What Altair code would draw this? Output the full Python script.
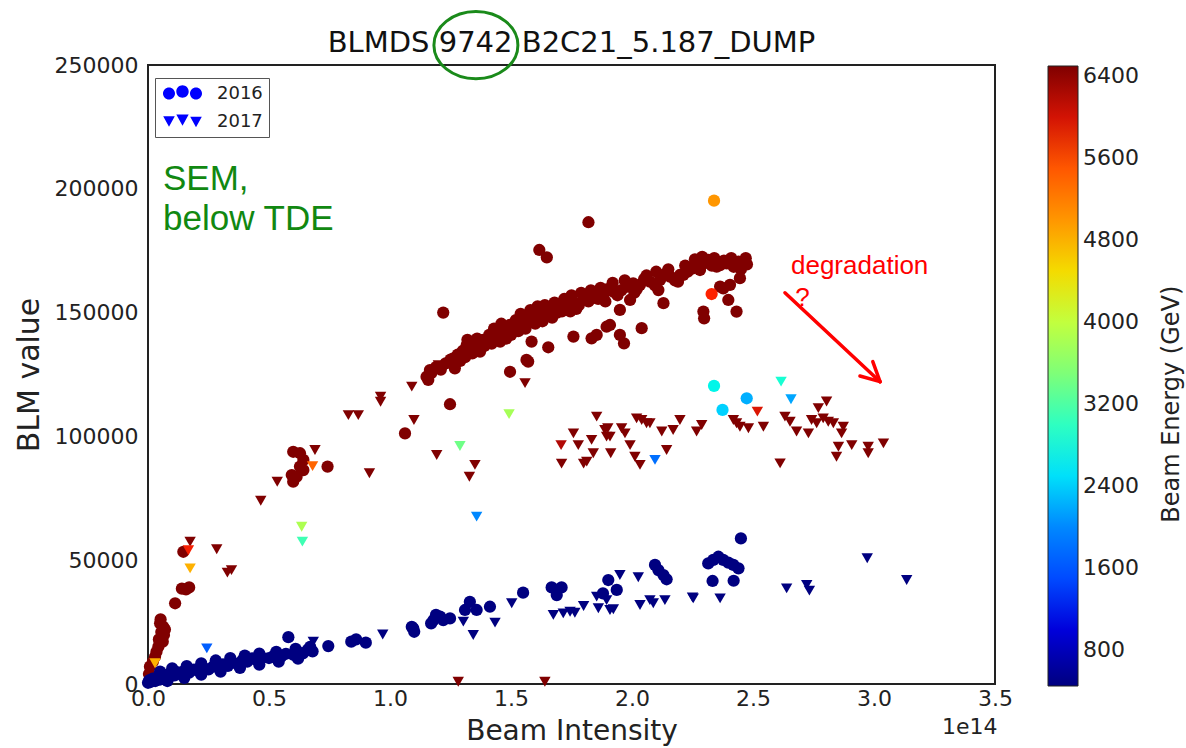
import altair as alt
import pandas as pd

# ---------------- data (x in units of 1e14, y = BLM value) ----------------
circ_6500 = [  # 2016, 6500 GeV
    (0.004, 4000), (0.008, 7000), (0.029, 11000), (0.043, 15100), (0.061, 17100),
    (0.066, 19800), (0.063, 23100), (0.052, 26100), (0.050, 24500), (0.112, 32600),
    (0.020, 9000), (0.035, 13000), (0.055, 21000), (0.070, 22000), (0.045, 18000),
    (0.140, 38500), (0.157, 38200), (0.170, 39000), (0.146, 53400),
    (0.600, 93800), (0.628, 93200), (0.642, 90500), (0.628, 87800), (0.642, 86400),
    (0.614, 83700), (0.600, 81700), (0.594, 84400), (0.742, 87800),
    (1.062, 101200), (1.248, 113000), (1.151, 124100), (1.165, 126800), (1.158, 122800),
    (1.220, 150000),
    (1.170, 125500), (1.190, 128000), (1.210, 127000), (1.230, 129500), (1.250, 131000),
    (1.262, 131500), (1.268, 127500), (1.280, 133000), (1.300, 134500), (1.317, 136900),
    (1.330, 135000), (1.345, 137500), (1.358, 136200), (1.372, 134200), (1.385, 139000),
    (1.400, 138000), (1.410, 141000), (1.427, 140300), (1.440, 142500), (1.455, 138300),
    (1.470, 143500), (1.482, 141600), (1.495, 145000), (1.510, 143000), (1.523, 144300),
    (1.535, 147000), (1.550, 145500), (1.564, 146400), (1.575, 149000), (1.592, 148400),
    (1.605, 147000), (1.620, 150500), (1.634, 149700), (1.650, 148500), (1.660, 152000),
    (1.675, 151100), (1.690, 150000), (1.700, 153500), (1.730, 152400), (1.745, 150500),
    (1.758, 154400), (1.780, 153000), (1.800, 155800), (1.820, 154500), (1.840, 157100),
    (1.860, 155500), (1.881, 156500), (1.900, 159500), (1.923, 158500), (1.940, 157000),
    (1.957, 159100), (1.980, 160500), (2.005, 161800), (2.020, 159500), (2.033, 161200),
    (2.050, 163500), (2.074, 162500), (2.095, 161000), (2.116, 163200), (2.135, 165500),
    (2.157, 164500), (2.178, 163000), (2.198, 165200), (2.212, 165200), (2.230, 166500),
    (2.247, 167900), (2.253, 167900), (2.270, 169500), (2.281, 167200), (2.300, 170000),
    (2.308, 170600), (2.315, 171300), (2.330, 169000), (2.350, 168600), (2.364, 169200),
    (2.380, 171000), (2.391, 169900), (2.405, 170600), (2.420, 168500), (2.432, 169900),
    (2.440, 170600), (2.460, 170600), (2.475, 169500),
    (1.290, 130500), (1.310, 132000), (1.320, 139000), (1.340, 133500), (1.360, 139500),
    (1.370, 137500), (1.390, 136500), (1.420, 137500), (1.430, 143500), (1.450, 141500),
    (1.460, 145500), (1.480, 139500), (1.500, 141000), (1.520, 147000), (1.530, 142500),
    (1.540, 149500), (1.560, 143500), (1.580, 151000), (1.600, 145500), (1.610, 152500),
    (1.630, 146500), (1.640, 153000), (1.670, 148000), (1.680, 154000), (1.710, 150500),
    (1.720, 155500), (1.750, 157000), (1.770, 151500), (1.790, 158000), (1.830, 159000),
    (1.870, 160000), (1.890, 154500), (1.920, 162000), (1.970, 163000), (2.010, 158000),
    (2.060, 165000), (2.100, 166500), (2.150, 167500), (2.190, 162500), (2.220, 169000),
    (2.260, 171500), (2.290, 172500), (2.340, 172000), (2.410, 172000), (2.450, 167500),
    (2.470, 172000),
    (1.496, 126100), (1.571, 130200), (1.564, 130900), (1.585, 138300), (1.654, 136000),
    (1.758, 140300), (1.833, 139600), (1.854, 141000), (1.895, 144300), (1.909, 145000),
    (1.950, 141000), (1.967, 137600), (1.950, 151100), (1.992, 155100), (2.040, 143700),
    (2.109, 159100), (2.130, 153800), (2.295, 150400), (2.298, 147700), (2.364, 160500),
    (2.398, 155100), (2.432, 150400), (2.405, 161200), (2.446, 163900), (2.377, 159800),
    (1.820, 186500), (1.617, 175300), (1.648, 172300),
]

circ_450 = [  # 2016, 450 GeV
    (0.000, 500), (0.005, 1500), (0.010, 800), (0.020, 2200), (0.030, 1200), (0.040, 2800),
    (0.050, 1800), (0.060, 3300), (0.070, 2500), (0.080, 3800), (0.090, 3000), (0.100, 4300),
    (0.110, 3500), (0.120, 4800), (0.140, 4000), (0.150, 5300), (0.170, 4600), (0.190, 5800),
    (0.210, 5200), (0.230, 6400), (0.250, 5900), (0.270, 7100), (0.290, 6600), (0.310, 7900),
    (0.330, 7300), (0.350, 8700), (0.370, 8100), (0.390, 9600), (0.410, 9000), (0.430, 10300),
    (0.450, 9700), (0.470, 10800), (0.500, 10500), (0.520, 11400), (0.550, 11000),
    (0.570, 12200), (0.600, 11800), (0.620, 12900), (0.640, 12400), (0.660, 13800),
    (0.680, 13200),
    (0.050, 5000), (0.100, 6300), (0.160, 7200), (0.220, 8300), (0.280, 9500),
    (0.340, 10500), (0.400, 11500), (0.460, 12300), (0.530, 13000), (0.610, 14200),
    (0.670, 15000),
    (0.080, 1200), (0.150, 2500), (0.220, 3800), (0.300, 5000), (0.380, 6500),
    (0.460, 7800), (0.540, 9000), (0.620, 10200),
    (0.580, 18900), (0.745, 15300), (0.840, 17100), (0.860, 18000),
    (0.900, 16700), (1.090, 23100), (1.100, 21100), (1.096, 22500), (1.170, 24500),
    (1.180, 25800), (1.190, 27900), (1.207, 27200), (1.220, 25800), (1.248, 26500),
    (1.310, 29900), (1.330, 33200), (1.358, 29900), (1.413, 31200), (1.550, 36900),
    (1.668, 39000), (1.689, 38000), (1.709, 39000), (1.689, 35900), (1.902, 42000),
    (1.937, 38000), (1.880, 36600), (2.095, 48100), (2.109, 46000), (2.130, 44000),
    (2.143, 42300), (2.450, 58800), (2.315, 48700), (2.336, 50100), (2.357, 51400),
    (2.377, 50100), (2.398, 49000), (2.419, 48100), (2.440, 46700), (2.333, 41600),
    (2.420, 41700),
]

tri_6500 = [  # 2017, 6500 GeV
    (0.466, 74000), (0.174, 57500), (0.284, 54400), (0.328, 45000), (0.345, 46000),
    (0.534, 81700), (0.690, 94500), (0.915, 85100), (0.828, 108600), (0.869, 108600),
    (0.961, 116000), (0.961, 114000), (1.090, 120100), (1.099, 106600), (1.193, 92500),
    (1.220, 128200), (1.200, 128800), (1.351, 88500), (1.328, 83700), (1.558, 121500),
    (1.282, 900), (1.640, 900),
    (1.709, 89000), (1.758, 101200), (1.778, 96500), (1.800, 89000), (1.813, 89800),
    (1.833, 98600), (1.840, 93200), (1.854, 108000), (1.888, 102600), (1.900, 103300),
    (1.909, 99900), (1.895, 99900), (1.912, 93200), (1.957, 103300), (1.971, 101200),
    (1.992, 96500), (2.012, 91800), (2.033, 88500), (2.019, 107300), (2.040, 106600),
    (2.060, 105300), (2.074, 105300), (2.123, 102000), (2.143, 94500), (2.170, 102600),
    (2.198, 106600), (2.267, 102000), (2.288, 104600), (2.419, 106600), (2.432, 105300),
    (2.446, 103900), (2.481, 103300), (2.543, 103900), (2.612, 89100), (2.632, 108000),
    (2.653, 105900), (2.680, 102000), (2.729, 101200), (2.742, 106600), (2.763, 105300),
    (2.770, 111400), (2.804, 114100), (2.790, 107300), (2.811, 105900), (2.832, 105300),
    (2.873, 103900), (2.866, 101200), (2.853, 95800), (2.845, 91800), (2.908, 96500),
    (2.976, 95800), (2.976, 93200), (3.039, 97200),
]

tri_450 = [  # 2017, 450 GeV
    (0.683, 17100), (0.970, 20000), (1.303, 25200), (1.344, 19800), (1.434, 24800),
    (1.503, 32600), (1.675, 27900), (1.716, 28500), (1.744, 29200), (1.764, 28800),
    (1.800, 31500), (1.854, 35300), (1.861, 30600), (1.895, 33900), (1.909, 29900),
    (1.923, 30200), (1.950, 44000), (2.026, 43100), (2.033, 31900), (2.074, 33900),
    (2.088, 32600), (2.136, 33900), (2.250, 35000), (2.253, 34600), (2.364, 34600),
    (2.639, 38600), (2.722, 40000), (2.733, 37700), (2.972, 50800), (3.135, 42000),
]

other_2016 = [  # (x, y, energy)
    (2.339, 195200, 5000), (2.329, 157500, 5750), (2.339, 120400, 2650),
    (2.474, 115400, 2200), (2.374, 110700, 2400),
]
other_2017 = [
    (0.635, 63500, 3850), (0.638, 57500, 3100), (0.167, 54000, 5800), (0.174, 46700, 4800),
    (0.029, 8400, 4800), (0.243, 14400, 1650), (0.680, 88000, 5400), (1.358, 67600, 2000),
    (1.492, 109000, 3800), (1.289, 96100, 3400), (1.707, 96500, 6200), (2.095, 90500, 1800),
    (2.616, 122100, 2850), (2.657, 115000, 2150), (2.518, 110000, 5950),
]

years = ["2016", "2017"]
x_ticks = [0.0, 0.5, 1.0, 1.5, 2.0, 2.5, 3.0, 3.5]
y_ticks = [0, 50000, 100000, 150000, 200000, 250000]
energy_ticks = [800, 1600, 2400, 3200, 4000, 4800, 5600, 6400]
energy_range = [450, 6500]

title_text = ["BLMDS 9742 B2C21_5.187_DUMP"]
title_x = [1.75]
title_y = [255300]
green_notes = ["SEM,", "below TDE"]
green_x = [0.062, 0.062]
green_y = [204000, 188000]
red_notes = ["degradation", "?"]
red_x = [2.657, 2.675]
red_y = [168800, 156000]
arrow_x = [2.632, 3.025, 3.025]
arrow_y = [158000, 122100, 122100]
arrow_x2 = [3.025, 2.942, 2.995]
arrow_y2 = [122100, 124400, 130200]
circle_x = [1.355]
circle_y = [258000]

# ---------------- build table ----------------
rows = []
for x, y in circ_6500:
    rows.append({"intensity": x, "blm": y, "energy": 6500, "year": "2016"})
for x, y in circ_450:
    rows.append({"intensity": x, "blm": y, "energy": 450, "year": "2016"})
for x, y, e in other_2016:
    rows.append({"intensity": x, "blm": y, "energy": e, "year": "2016"})
for x, y in tri_6500:
    rows.append({"intensity": x, "blm": y, "energy": 6500, "year": "2017"})
for x, y in tri_450:
    rows.append({"intensity": x, "blm": y, "energy": 450, "year": "2017"})
for x, y, e in other_2017:
    rows.append({"intensity": x, "blm": y, "energy": e, "year": "2017"})
df = pd.DataFrame(rows)

jet = ["#000080", "#0000ff", "#0080ff", "#14ffe2", "#7bff7b",
       "#e2ff14", "#ff9700", "#ff2100", "#800000"]
lo, hi = energy_range
stops = [lo + i * (hi - lo) / 8 for i in range(9)]

W, H = 847, 619
FONT = "DejaVu Sans"

x_scale = alt.Scale(domain=[0, 3.5], nice=False, zero=False)
y_scale = alt.Scale(domain=[0, 250000], nice=False)

points = alt.Chart(df).mark_point(filled=True, opacity=1).encode(
    x=alt.X("intensity:Q", scale=x_scale, title="Beam Intensity",
            axis=alt.Axis(values=x_ticks, format=".1f", labelFlush=False,
                          ticks=False, domain=False, grid=False,
                          labelPadding=4, titlePadding=8, titleFontSize=28)),
    y=alt.Y("blm:Q", scale=y_scale, title="BLM value",
            axis=alt.Axis(values=y_ticks, format="d", labelFlush=False,
                          ticks=False, domain=False, grid=False,
                          labelPadding=10, titlePadding=10, titleFontSize=30)),
    color=alt.Color("energy:Q",
                    scale=alt.Scale(domain=stops, range=jet),
                    legend=alt.Legend(type="gradient", orient="none", direction="vertical",
                                      legendX=900, legendY=1, title=None,
                                      gradientLength=620, gradientThickness=30,
                                      gradientStrokeColor="#222", gradientStrokeWidth=1,
                                      values=energy_ticks, format="d",
                                      labelFont=FONT, labelFontSize=22, labelColor="#222",
                                      labelOffset=5, padding=0, labelOverlap=False)),
    shape=alt.Shape("year:N", scale=alt.Scale(domain=years, range=["circle", "triangle-down"]),
                    legend=None),
    size=alt.Size("year:N", scale=alt.Scale(domain=years, range=[150, 130]), legend=None),
)


def circ(cx, cy, r):
    return f"M{cx - r},{cy}A{r},{r} 0 1,0 {cx + r},{cy}A{r},{r} 0 1,0 {cx - r},{cy}Z"


def tri(cx, cy, r):
    return f"M{cx - r},{cy - 0.8 * r}L{cx + r},{cy - 0.8 * r}L{cx},{cy + r}Z"


three_circles = circ(-0.2, -0.05, 0.6) + circ(1.15, -0.25, 0.62) + circ(2.5, -0.05, 0.6)
three_tris = tri(-0.2, -0.1, 0.58) + tri(1.15, -0.25, 0.62) + tri(2.5, -0.05, 0.58)

year_legend = alt.Chart(pd.DataFrame({"year": years})).transform_filter("false").mark_point(
    filled=True, color="#0000ff", opacity=1
).encode(
    shape=alt.Shape("year:N", scale=alt.Scale(domain=years, range=[three_circles, three_tris]),
                    legend=alt.Legend(orient="none", legendX=7, legendY=13, title=None,
                                      symbolSize=400, symbolFillColor="#0000ff",
                                      symbolOpacity=1,
                                      symbolStrokeWidth=0, symbolStrokeColor="transparent",
                                      labelFont=FONT, labelFontSize=18, labelColor="#222",
                                      labelOffset=36, rowPadding=9,
                                      strokeColor="#555", padding=6))
)

title_df = pd.DataFrame({"t": title_text, "x": title_x, "y": title_y})
title = alt.Chart(title_df).mark_text(
    font=FONT, fontSize=29, color="#111", align="center", baseline="alphabetic"
).encode(x=alt.X("x:Q", scale=x_scale), y=alt.Y("y:Q", scale=y_scale), text="t:N")

green_df = pd.DataFrame({"t": green_notes, "x": green_x, "y": green_y})
green = alt.Chart(green_df).mark_text(
    font="Liberation Sans", fontSize=35, color="#118811", align="left", baseline="middle"
).encode(x=alt.X("x:Q", scale=x_scale), y=alt.Y("y:Q", scale=y_scale), text="t:N")

red_df = pd.DataFrame({"t": red_notes, "x": red_x, "y": red_y})
red = alt.Chart(red_df).mark_text(
    font="Liberation Sans", fontSize=26, color="#ff0000", align="left", baseline="middle"
).encode(x=alt.X("x:Q", scale=x_scale), y=alt.Y("y:Q", scale=y_scale), text="t:N")

arrow_df = pd.DataFrame({"x": arrow_x, "y": arrow_y, "x2": arrow_x2, "y2": arrow_y2})
arrow = alt.Chart(arrow_df).mark_rule(color="#ff0000", strokeWidth=3.5, strokeCap="round").encode(
    x=alt.X("x:Q", scale=x_scale), y=alt.Y("y:Q", scale=y_scale), x2="x2:Q", y2="y2:Q"
)

ellipse_df = pd.DataFrame({"x": circle_x, "y": circle_y})
ellipse = alt.Chart(ellipse_df).mark_point(
    shape="M-1,0A1,0.8 0 1,0 1,0A1,0.8 0 1,0 -1,0Z", size=7056, filled=False,
    color="#1a8a1a", strokeWidth=3, opacity=1
).encode(x=alt.X("x:Q", scale=x_scale), y=alt.Y("y:Q", scale=y_scale))

sci_df = pd.DataFrame({"t": ["1e14"], "x": [3.51], "y": [-17500]})
sci = alt.Chart(sci_df).mark_text(
    font=FONT, fontSize=22, color="#222", align="right", baseline="middle"
).encode(x=alt.X("x:Q", scale=x_scale), y=alt.Y("y:Q", scale=y_scale), text="t:N")

cb_df = pd.DataFrame({"t": ["Beam Energy (GeV)"], "x": [4.23], "y": [113000]})
cb_title = alt.Chart(cb_df).mark_text(
    font=FONT, fontSize=24, color="#222", align="center", baseline="middle", angle=270
).encode(x=alt.X("x:Q", scale=x_scale), y=alt.Y("y:Q", scale=y_scale), text="t:N")

chart = alt.layer(points, year_legend, title, green, red, arrow, ellipse, sci, cb_title).resolve_scale(
    shape="independent"
).properties(
    width=W, height=H,
    autosize=alt.AutoSizeParams(type="none"),
    padding={"left": 148, "top": 65, "right": 191, "bottom": 64},
    background="white",
).configure_view(
    stroke="#222", strokeWidth=2
).configure_axis(
    labelFont=FONT, labelFontSize=22, labelColor="#222",
    titleFont=FONT, titleFontWeight="normal", titleColor="#222"
)

chart.save("out.html", embed_options={"renderer": "svg", "actions": False})
